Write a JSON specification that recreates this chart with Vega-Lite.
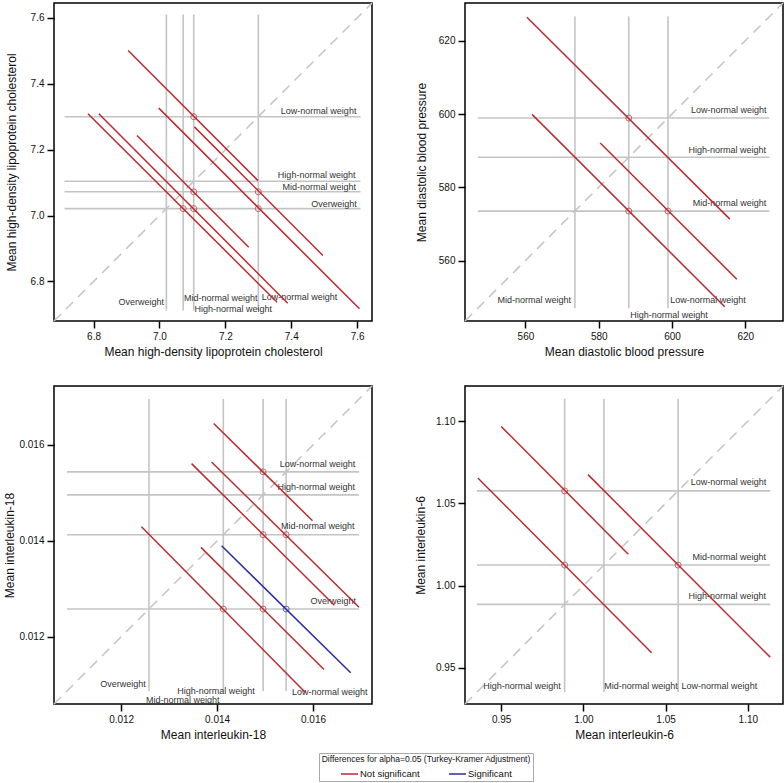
{
  "$schema": "https://vega.github.io/schema/vega-lite/v6.json",
  "padding": {"left": 3, "top": 1, "right": 0, "bottom": 0},
  "bounds": "flush",
  "columns": 2,
  "spacing": {"column": 93, "row": 65},
  "config": {
    "font": "Liberation Sans",
    "view": {"stroke": "black", "strokeWidth": 1.5},
    "axis": {"grid": false, "domain": false, "tickColor": "black", "tickSize": 7, "tickWidth": 1.5, "labelFontSize": 10, "labelColor": "#111", "titleFontSize": 12, "titleFontWeight": "normal", "titleColor": "#111", "labelPadding": 3, "titlePadding": 5}
  },
  "resolve": {"scale": {"color": "shared"}},
  "datasets": {
    "hdl_refs": [
      {"group": "Overweight", "mean": 7.021, "lo": 6.712, "hi": 7.61},
      {"group": "Mid-normal weight", "mean": 7.072, "lo": 6.712, "hi": 7.61},
      {"group": "High-normal weight", "mean": 7.104, "lo": 6.712, "hi": 7.61},
      {"group": "Low-normal weight", "mean": 7.3, "lo": 6.712, "hi": 7.61}
    ],
    "hdl_diag": [{"lo": 6.68, "hi": 7.645}],
    "hdl_ci": [
      {"x1": 6.905, "y1": 7.501, "x2": 7.299, "y2": 7.106, "xm": 7.104, "ym": 7.3, "sig": "Not significant"},
      {"x1": 6.998, "y1": 7.326, "x2": 7.607, "y2": 6.717, "xm": 7.3, "ym": 7.021, "sig": "Not significant"},
      {"x1": 7.106, "y1": 7.269, "x2": 7.496, "y2": 6.879, "xm": 7.3, "ym": 7.072, "sig": "Not significant"},
      {"x1": 6.783, "y1": 7.309, "x2": 7.357, "y2": 6.737, "xm": 7.072, "ym": 7.021, "sig": "Not significant"},
      {"x1": 6.816, "y1": 7.309, "x2": 7.389, "y2": 6.734, "xm": 7.104, "ym": 7.021, "sig": "Not significant"},
      {"x1": 6.932, "y1": 7.243, "x2": 7.271, "y2": 6.904, "xm": 7.104, "ym": 7.072, "sig": "Not significant"}
    ],
    "hdl_labels": [
      {"label": "Low-normal weight", "lx": 7.483, "ly": 7.317},
      {"label": "High-normal weight", "lx": 7.477, "ly": 7.124},
      {"label": "Mid-normal weight", "lx": 7.485, "ly": 7.087},
      {"label": "Overweight", "lx": 7.53, "ly": 7.035},
      {"label": "Overweight", "lx": 6.945, "ly": 6.739},
      {"label": "Mid-normal weight", "lx": 7.186, "ly": 6.749},
      {"label": "High-normal weight", "lx": 7.224, "ly": 6.717},
      {"label": "Low-normal weight", "lx": 7.425, "ly": 6.752}
    ],
    "dbp_refs": [
      {"group": "Mid-normal weight", "mean": 573.5, "lo": 547.0, "hi": 626.6},
      {"group": "High-normal weight", "mean": 588.2, "lo": 547.0, "hi": 626.6},
      {"group": "Low-normal weight", "mean": 598.9, "lo": 547.0, "hi": 626.6}
    ],
    "dbp_diag": [{"lo": 543.5, "hi": 630.3}],
    "dbp_ci": [
      {"x1": 560.4, "y1": 626.4, "x2": 615.8, "y2": 571.3, "xm": 588.2, "ym": 598.9, "sig": "Not significant"},
      {"x1": 561.8, "y1": 599.9, "x2": 614.4, "y2": 547.4, "xm": 588.2, "ym": 573.5, "sig": "Not significant"},
      {"x1": 580.4, "y1": 592.1, "x2": 617.7, "y2": 554.9, "xm": 598.9, "ym": 573.5, "sig": "Not significant"}
    ],
    "dbp_labels": [
      {"label": "Low-normal weight", "lx": 615.5, "ly": 601.2},
      {"label": "High-normal weight", "lx": 615.1, "ly": 590.3},
      {"label": "Mid-normal weight", "lx": 615.7, "ly": 575.7},
      {"label": "Mid-normal weight", "lx": 562.4, "ly": 549.2},
      {"label": "High-normal weight", "lx": 599.2, "ly": 545.1},
      {"label": "Low-normal weight", "lx": 609.8, "ly": 549.2}
    ],
    "il18_refs": [
      {"group": "Overweight", "mean": 0.01258, "lo": 0.01087, "hi": 0.01696},
      {"group": "Mid-normal weight", "mean": 0.01413, "lo": 0.01087, "hi": 0.01696},
      {"group": "High-normal weight", "mean": 0.01496, "lo": 0.01087, "hi": 0.01696},
      {"group": "Low-normal weight", "mean": 0.01544, "lo": 0.01087, "hi": 0.01696}
    ],
    "il18_diag": [{"lo": 0.0106, "hi": 0.01723}],
    "il18_ci": [
      {"x1": 0.01393, "y1": 0.01645, "x2": 0.01599, "y2": 0.01442, "xm": 0.01496, "ym": 0.01544, "sig": "Not significant"},
      {"x1": 0.013468, "y1": 0.015612, "x2": 0.016445, "y2": 0.012659, "xm": 0.01496, "ym": 0.01413, "sig": "Not significant"},
      {"x1": 0.013885, "y1": 0.015646, "x2": 0.01696, "y2": 0.012617, "xm": 0.01544, "ym": 0.01413, "sig": "Not significant"},
      {"x1": 0.012424, "y1": 0.014295, "x2": 0.015847, "y2": 0.010835, "xm": 0.01413, "ym": 0.01258, "sig": "Not significant"},
      {"x1": 0.013663, "y1": 0.013865, "x2": 0.01623, "y2": 0.011321, "xm": 0.01496, "ym": 0.01258, "sig": "Not significant"},
      {"x1": 0.014094, "y1": 0.013899, "x2": 0.016786, "y2": 0.011251, "xm": 0.01544, "ym": 0.01258, "sig": "Significant"}
    ],
    "il18_labels": [
      {"label": "Low-normal weight", "lx": 0.016094, "ly": 0.015605},
      {"label": "High-normal weight", "lx": 0.016066, "ly": 0.01512},
      {"label": "Mid-normal weight", "lx": 0.016101, "ly": 0.014302},
      {"label": "Overweight", "lx": 0.016421, "ly": 0.012756},
      {"label": "Overweight", "lx": 0.012038, "ly": 0.011016},
      {"label": "High-normal weight", "lx": 0.013976, "ly": 0.010873},
      {"label": "Mid-normal weight", "lx": 0.013283, "ly": 0.010685},
      {"label": "Low-normal weight", "lx": 0.016351, "ly": 0.010849}
    ],
    "il6_refs": [
      {"group": "High-normal weight", "mean": 0.9886, "lo": 0.9353, "hi": 1.1136},
      {"group": "Mid-normal weight", "mean": 1.0125, "lo": 0.9353, "hi": 1.1136},
      {"group": "Low-normal weight", "mean": 1.0576, "lo": 0.9353, "hi": 1.1136}
    ],
    "il6_diag": [{"lo": 0.928, "hi": 1.1214}],
    "il6_ci": [
      {"x1": 0.95, "y1": 1.0968, "x2": 1.0273, "y2": 1.0191, "xm": 0.9886, "ym": 1.0576, "sig": "Not significant"},
      {"x1": 0.9358, "y1": 1.0655, "x2": 1.0415, "y2": 0.9592, "xm": 0.9886, "ym": 1.0125, "sig": "Not significant"},
      {"x1": 1.0028, "y1": 1.0675, "x2": 1.1136, "y2": 0.9565, "xm": 1.0576, "ym": 1.0125, "sig": "Not significant"}
    ],
    "il6_labels": [
      {"label": "Low-normal weight", "lx": 1.0882, "ly": 1.0628},
      {"label": "Mid-normal weight", "lx": 1.0887, "ly": 1.0173},
      {"label": "High-normal weight", "lx": 1.0875, "ly": 0.9935},
      {"label": "High-normal weight", "lx": 0.9627, "ly": 0.9392},
      {"label": "Mid-normal weight", "lx": 1.0351, "ly": 0.9392},
      {"label": "Low-normal weight", "lx": 1.0827, "ly": 0.9392}
    ]
  },
  "concat": [
    {
      "width": 318, "height": 318,
      "layer": [
        {"data": {"name": "hdl_diag"}, "mark": {"type": "rule", "color": "#c4c4c4", "strokeWidth": 1.5, "strokeDash": [10, 7]},
         "encoding": {
           "x": {"field": "lo", "type": "quantitative", "scale": {"domain": [6.68, 7.645], "nice": false, "zero": false}, "axis": {"values": [6.8, 7.0, 7.2, 7.4, 7.6], "format": ".1f", "title": "Mean high-density lipoprotein cholesterol"}},
           "y": {"field": "lo", "type": "quantitative", "scale": {"domain": [6.68, 7.645], "nice": false, "zero": false}, "axis": {"values": [6.8, 7.0, 7.2, 7.4, 7.6], "format": ".1f", "title": "Mean high-density lipoprotein cholesterol", "titlePadding": 12}},
           "x2": {"field": "hi"}, "y2": {"field": "hi"}}},
        {"data": {"name": "hdl_refs"}, "mark": {"type": "rule", "color": "#c4c4c4", "strokeWidth": 1.6},
         "encoding": {"x": {"field": "mean", "type": "quantitative"}, "y": {"field": "lo", "type": "quantitative"}, "y2": {"field": "hi"}}},
        {"data": {"name": "hdl_refs"}, "mark": {"type": "rule", "color": "#c4c4c4", "strokeWidth": 1.6},
         "encoding": {"y": {"field": "mean", "type": "quantitative"}, "x": {"field": "lo", "type": "quantitative"}, "x2": {"field": "hi"}}},
        {"data": {"name": "hdl_labels"}, "mark": {"type": "text", "fontSize": 9, "color": "#333", "align": "center", "baseline": "middle"},
         "encoding": {"x": {"field": "lx", "type": "quantitative"}, "y": {"field": "ly", "type": "quantitative"}, "text": {"field": "label"}}},
        {"data": {"name": "hdl_ci"}, "mark": {"type": "rule", "strokeWidth": 1.5},
         "encoding": {"x": {"field": "x1", "type": "quantitative"}, "y": {"field": "y1", "type": "quantitative"}, "x2": {"field": "x2"}, "y2": {"field": "y2"},
           "color": {"field": "sig", "type": "nominal", "scale": {"domain": ["Not significant", "Significant"], "range": ["#bb2a2f", "#2b2ba6"]},
             "legend": {"title": "Differences for alpha=0.05 (Turkey-Kramer Adjustment)", "orient": "none", "legendX": 265, "legendY": 750, "direction": "horizontal", "titleAnchor": "middle", "titleFontSize": 8.5, "titleFontWeight": "normal", "titleColor": "#111", "titleLimit": 500, "titlePadding": 1, "labelFontSize": 9.5, "labelColor": "#111", "labelLimit": 200, "symbolType": "stroke", "symbolSize": 289, "symbolStrokeWidth": 1.5, "labelOffset": 1, "columnPadding": 26, "padding": 2, "strokeColor": "#aaaaaa"}}}},
        {"data": {"name": "hdl_ci"}, "mark": {"type": "point", "shape": "circle", "filled": false, "size": 36, "strokeWidth": 1},
         "encoding": {"x": {"field": "xm", "type": "quantitative"}, "y": {"field": "ym", "type": "quantitative"},
           "stroke": {"field": "sig", "type": "nominal", "scale": {"domain": ["Not significant", "Significant"], "range": ["#bb2a2f", "#2b2ba6"]}, "legend": null}}}
      ]
    },
    {
      "width": 318, "height": 318,
      "layer": [
        {"data": {"name": "dbp_diag"}, "mark": {"type": "rule", "color": "#c4c4c4", "strokeWidth": 1.5, "strokeDash": [10, 7]},
         "encoding": {
           "x": {"field": "lo", "type": "quantitative", "scale": {"domain": [543.5, 630.3], "nice": false, "zero": false}, "axis": {"values": [560, 580, 600, 620], "title": "Mean diastolic blood pressure"}},
           "y": {"field": "lo", "type": "quantitative", "scale": {"domain": [543.5, 630.3], "nice": false, "zero": false}, "axis": {"values": [560, 580, 600, 620], "title": "Mean diastolic blood pressure", "titlePadding": 10}},
           "x2": {"field": "hi"}, "y2": {"field": "hi"}}},
        {"data": {"name": "dbp_refs"}, "mark": {"type": "rule", "color": "#c4c4c4", "strokeWidth": 1.6},
         "encoding": {"x": {"field": "mean", "type": "quantitative"}, "y": {"field": "lo", "type": "quantitative"}, "y2": {"field": "hi"}}},
        {"data": {"name": "dbp_refs"}, "mark": {"type": "rule", "color": "#c4c4c4", "strokeWidth": 1.6},
         "encoding": {"y": {"field": "mean", "type": "quantitative"}, "x": {"field": "lo", "type": "quantitative"}, "x2": {"field": "hi"}}},
        {"data": {"name": "dbp_labels"}, "mark": {"type": "text", "fontSize": 9, "color": "#333", "align": "center", "baseline": "middle"},
         "encoding": {"x": {"field": "lx", "type": "quantitative"}, "y": {"field": "ly", "type": "quantitative"}, "text": {"field": "label"}}},
        {"data": {"name": "dbp_ci"}, "mark": {"type": "rule", "strokeWidth": 1.5},
         "encoding": {"x": {"field": "x1", "type": "quantitative"}, "y": {"field": "y1", "type": "quantitative"}, "x2": {"field": "x2"}, "y2": {"field": "y2"},
           "color": {"field": "sig", "type": "nominal", "scale": {"domain": ["Not significant", "Significant"], "range": ["#bb2a2f", "#2b2ba6"]}}}},
        {"data": {"name": "dbp_ci"}, "mark": {"type": "point", "shape": "circle", "filled": false, "size": 36, "strokeWidth": 1},
         "encoding": {"x": {"field": "xm", "type": "quantitative"}, "y": {"field": "ym", "type": "quantitative"},
           "stroke": {"field": "sig", "type": "nominal", "scale": {"domain": ["Not significant", "Significant"], "range": ["#bb2a2f", "#2b2ba6"]}, "legend": null}}}
      ]
    },
    {
      "width": 318, "height": 318,
      "layer": [
        {"data": {"name": "il18_diag"}, "mark": {"type": "rule", "color": "#c4c4c4", "strokeWidth": 1.5, "strokeDash": [10, 7]},
         "encoding": {
           "x": {"field": "lo", "type": "quantitative", "scale": {"domain": [0.0106, 0.01723], "nice": false, "zero": false}, "axis": {"values": [0.012, 0.014, 0.016], "format": ".3f", "title": "Mean interleukin-18"}},
           "y": {"field": "lo", "type": "quantitative", "scale": {"domain": [0.0106, 0.01723], "nice": false, "zero": false}, "axis": {"values": [0.012, 0.014, 0.016], "format": ".3f", "title": "Mean interleukin-18", "titlePadding": 2}},
           "x2": {"field": "hi"}, "y2": {"field": "hi"}}},
        {"data": {"name": "il18_refs"}, "mark": {"type": "rule", "color": "#c4c4c4", "strokeWidth": 1.6},
         "encoding": {"x": {"field": "mean", "type": "quantitative"}, "y": {"field": "lo", "type": "quantitative"}, "y2": {"field": "hi"}}},
        {"data": {"name": "il18_refs"}, "mark": {"type": "rule", "color": "#c4c4c4", "strokeWidth": 1.6},
         "encoding": {"y": {"field": "mean", "type": "quantitative"}, "x": {"field": "lo", "type": "quantitative"}, "x2": {"field": "hi"}}},
        {"data": {"name": "il18_labels"}, "mark": {"type": "text", "fontSize": 9, "color": "#333", "align": "center", "baseline": "middle"},
         "encoding": {"x": {"field": "lx", "type": "quantitative"}, "y": {"field": "ly", "type": "quantitative"}, "text": {"field": "label"}}},
        {"data": {"name": "il18_ci"}, "mark": {"type": "rule", "strokeWidth": 1.5},
         "encoding": {"x": {"field": "x1", "type": "quantitative"}, "y": {"field": "y1", "type": "quantitative"}, "x2": {"field": "x2"}, "y2": {"field": "y2"},
           "color": {"field": "sig", "type": "nominal", "scale": {"domain": ["Not significant", "Significant"], "range": ["#bb2a2f", "#2b2ba6"]}}}},
        {"data": {"name": "il18_ci"}, "mark": {"type": "point", "shape": "circle", "filled": false, "size": 36, "strokeWidth": 1},
         "encoding": {"x": {"field": "xm", "type": "quantitative"}, "y": {"field": "ym", "type": "quantitative"},
           "stroke": {"field": "sig", "type": "nominal", "scale": {"domain": ["Not significant", "Significant"], "range": ["#bb2a2f", "#2b2ba6"]}, "legend": null}}}
      ]
    },
    {
      "width": 318, "height": 318,
      "layer": [
        {"data": {"name": "il6_diag"}, "mark": {"type": "rule", "color": "#c4c4c4", "strokeWidth": 1.5, "strokeDash": [10, 7]},
         "encoding": {
           "x": {"field": "lo", "type": "quantitative", "scale": {"domain": [0.928, 1.1214], "nice": false, "zero": false}, "axis": {"values": [0.95, 1.0, 1.05, 1.1], "format": ".2f", "title": "Mean interleukin-6"}},
           "y": {"field": "lo", "type": "quantitative", "scale": {"domain": [0.928, 1.1214], "nice": false, "zero": false}, "axis": {"values": [0.95, 1.0, 1.05, 1.1], "format": ".2f", "title": "Mean interleukin-6", "titlePadding": 8}},
           "x2": {"field": "hi"}, "y2": {"field": "hi"}}},
        {"data": {"name": "il6_refs"}, "mark": {"type": "rule", "color": "#c4c4c4", "strokeWidth": 1.6},
         "encoding": {"x": {"field": "mean", "type": "quantitative"}, "y": {"field": "lo", "type": "quantitative"}, "y2": {"field": "hi"}}},
        {"data": {"name": "il6_refs"}, "mark": {"type": "rule", "color": "#c4c4c4", "strokeWidth": 1.6},
         "encoding": {"y": {"field": "mean", "type": "quantitative"}, "x": {"field": "lo", "type": "quantitative"}, "x2": {"field": "hi"}}},
        {"data": {"name": "il6_labels"}, "mark": {"type": "text", "fontSize": 9, "color": "#333", "align": "center", "baseline": "middle"},
         "encoding": {"x": {"field": "lx", "type": "quantitative"}, "y": {"field": "ly", "type": "quantitative"}, "text": {"field": "label"}}},
        {"data": {"name": "il6_ci"}, "mark": {"type": "rule", "strokeWidth": 1.5},
         "encoding": {"x": {"field": "x1", "type": "quantitative"}, "y": {"field": "y1", "type": "quantitative"}, "x2": {"field": "x2"}, "y2": {"field": "y2"},
           "color": {"field": "sig", "type": "nominal", "scale": {"domain": ["Not significant", "Significant"], "range": ["#bb2a2f", "#2b2ba6"]}}}},
        {"data": {"name": "il6_ci"}, "mark": {"type": "point", "shape": "circle", "filled": false, "size": 36, "strokeWidth": 1},
         "encoding": {"x": {"field": "xm", "type": "quantitative"}, "y": {"field": "ym", "type": "quantitative"},
           "stroke": {"field": "sig", "type": "nominal", "scale": {"domain": ["Not significant", "Significant"], "range": ["#bb2a2f", "#2b2ba6"]}, "legend": null}}}
      ]
    }
  ]
}
